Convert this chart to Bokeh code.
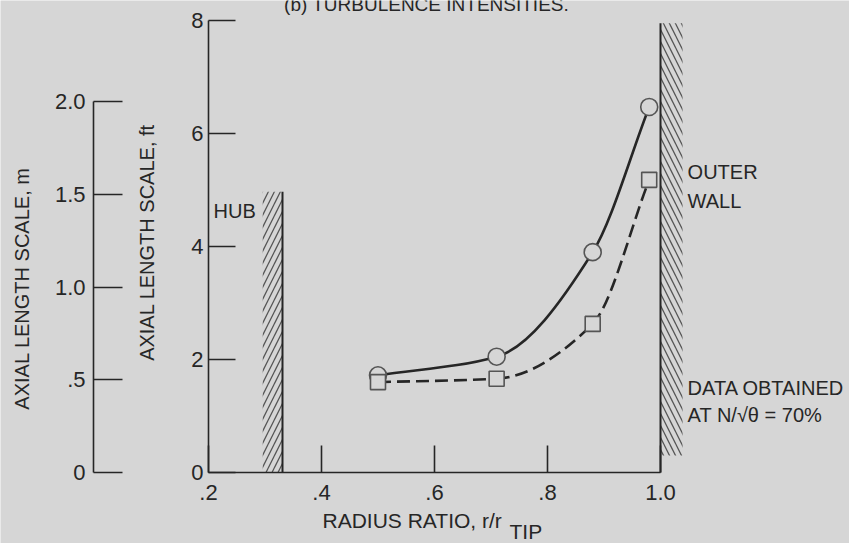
import math
from bokeh.plotting import figure
from bokeh.models import Range1d, FixedTicker, ColumnDataSource, LinearAxis
from bokeh.core.properties import value
from bokeh.embed import file_html
from bokeh.resources import INLINE

# ---------------- data ----------------
radius_ratio = [0.50, 0.71, 0.88, 0.98]
scale_circles = [1.72, 2.05, 3.90, 6.47]
scale_squares = [1.60, 1.66, 2.63, 5.18]

x_ticks = [0.2, 0.4, 0.6, 0.8, 1.0]
x_tick_labels = [".2", ".4", ".6", ".8", "1.0"]
ft_ticks = [0, 2, 4, 6, 8]
ft_tick_labels = ["0", "2", "4", "6", "8"]
m_ticks = [0, 0.5, 1.0, 1.5, 2.0]
m_tick_labels = ["0", ".5", "1.0", "1.5", "2.0"]
FT_PER_M = 3.28084

hub_ratio = 0.331
hub_top = 4.97
wall_ratio = 1.0

# ---------------- style / layout ----------------
BG = "#d6d6d6"
INK = "#262626"
MARK = "#555555"
FONT = "Liberation Sans"
W, H = 849, 543

# visible data window
X0, X1 = -0.1681, 1.3345
Y0, Y1 = -1.2566, 8.354


def faired(xs, ys):
    """Monotone cubic (Fritsch-Carlson) fairing through the data points,
    returned as cubic Bezier pieces."""
    n = len(xs)
    h = [xs[i + 1] - xs[i] for i in range(n - 1)]
    d = [(ys[i + 1] - ys[i]) / h[i] for i in range(n - 1)]
    m = [0.0] * n
    m[0], m[-1] = d[0], d[-1]
    for k in range(1, n - 1):
        if d[k - 1] * d[k] <= 0:
            m[k] = 0.0
        else:
            m[k] = 3 * (h[k - 1] + h[k]) / ((2 * h[k] + h[k - 1]) / d[k - 1]
                                            + (h[k] + 2 * h[k - 1]) / d[k])
    out = dict(x0=[], y0=[], x1=[], y1=[], cx0=[], cy0=[], cx1=[], cy1=[])
    for i in range(n - 1):
        out["x0"].append(xs[i]); out["y0"].append(ys[i])
        out["x1"].append(xs[i + 1]); out["y1"].append(ys[i + 1])
        out["cx0"].append(xs[i] + h[i] / 3)
        out["cy0"].append(ys[i] + m[i] * h[i] / 3)
        out["cx1"].append(xs[i + 1] - h[i] / 3)
        out["cy1"].append(ys[i + 1] - m[i + 1] * h[i] / 3)
    return ColumnDataSource(out)


def style_axis(ax, ticks, labels, tick_in, standoff):
    ax.ticker = FixedTicker(ticks=ticks)
    ax.major_label_overrides = {t: l for t, l in zip(ticks, labels)}
    ax.minor_tick_line_color = None
    ax.major_tick_out = 0
    ax.major_tick_in = tick_in
    ax.major_label_standoff = standoff
    ax.axis_line_color = INK
    ax.axis_line_width = 1.6
    ax.major_tick_line_color = INK
    ax.major_tick_line_width = 1.6
    ax.major_label_text_font = FONT
    ax.major_label_text_font_size = "22px"
    ax.major_label_text_color = INK


p = figure(width=W, height=H, x_range=Range1d(X0, X1), y_range=Range1d(Y0, Y1),
           x_axis_type=None, y_axis_type=None,
           output_backend="svg", toolbar_location=None,
           min_border=0, min_border_left=0, min_border_right=0,
           min_border_top=0, min_border_bottom=0)
p.extra_y_ranges = {"m": Range1d(Y0 / FT_PER_M, Y1 / FT_PER_M)}
p.background_fill_color = BG
p.border_fill_color = BG
p.outline_line_color = None

ax_m = LinearAxis(y_range_name="m", fixed_location=-0.0035)
style_axis(ax_m, m_ticks, m_tick_labels, 29, 8)
ax_m.bounds = (0, 2.0)
p.add_layout(ax_m, "left")

ax_ft = LinearAxis(fixed_location=0.2)
style_axis(ax_ft, ft_ticks, ft_tick_labels, 27, 5)
ax_ft.bounds = (0, 8)
p.add_layout(ax_ft, "left")

ax_x = LinearAxis(fixed_location=0)
style_axis(ax_x, x_ticks, x_tick_labels, 27, 12)
ax_x.bounds = (0.2, 1.0)
p.add_layout(ax_x, "below")

# axis titles
title_kw = dict(text_font=value(FONT), text_color=INK, text_baseline="middle")
p.text(x=[-0.1292], y=[3.257], text=["AXIAL LENGTH SCALE, m"], angle=math.pi / 2,
       text_align="center", text_font_size="20px", **title_kw)
p.text(x=[0.092], y=[4.071], text=["AXIAL LENGTH SCALE, ft"], angle=math.pi / 2,
       text_align="center", text_font_size="20px", **title_kw)
p.text(x=[0.4018], y=[-0.85], text=["RADIUS RATIO, r/r"],
       text_align="left", text_font_size="21px", **title_kw)
p.text(x=[0.7327], y=[-1.053], text=["TIP"],
       text_align="left", text_font_size="21px", **title_kw)

# hub and outer wall
p.quad(left=[0.296], right=[hub_ratio], bottom=[0], top=[hub_top],
       fill_color=None, line_color=None,
       hatch_pattern="/", hatch_color=MARK, hatch_weight=1.3, hatch_scale=12)
p.segment(x0=[hub_ratio], y0=[0], x1=[hub_ratio], y1=[hub_top],
          line_color=INK, line_width=2)
p.quad(left=[wall_ratio], right=[1.039], bottom=[0.3], top=[7.95],
       fill_color=None, line_color=None,
       hatch_pattern="\\", hatch_color=MARK, hatch_weight=1.3, hatch_scale=12)
p.segment(x0=[wall_ratio], y0=[0], x1=[wall_ratio], y1=[7.95],
          line_color=INK, line_width=2)

# faired curves
p.bezier(x0="x0", y0="y0", x1="x1", y1="y1", cx0="cx0", cy0="cy0",
         cx1="cx1", cy1="cy1", source=faired(radius_ratio, scale_circles),
         line_color=INK, line_width=2.6)
p.bezier(x0="x0", y0="y0", x1="x1", y1="y1", cx0="cx0", cy0="cy0",
         cx1="cx1", cy1="cy1", source=faired(radius_ratio, scale_squares),
         line_color=INK, line_width=2.6, line_dash="13 6")

src_c = ColumnDataSource(dict(x=radius_ratio, y=scale_circles))
src_s = ColumnDataSource(dict(x=radius_ratio, y=scale_squares))
p.scatter("x", "y", source=src_c, marker="circle", size=17,
          fill_color=BG, line_color=MARK, line_width=1.6)
p.scatter("x", "y", source=src_s, marker="square", size=15,
          fill_color=BG, line_color=MARK, line_width=1.6)

# annotations
p.text(x=[0.209], y=[4.62], text=["HUB"], text_font_size="20px", **title_kw)
p.text(x=[1.048, 1.048], y=[5.31, 4.80], text=["OUTER", "WALL"],
       text_font_size="20px", **title_kw)
p.text(x=[1.048, 1.048], y=[1.50, 1.01],
       text=["DATA OBTAINED", "AT N/\u221a\u03b8 = 70%"],
       text_font_size="20px", **title_kw)
p.text(x=[0.586], y=[8.292], text=["(b) TURBULENCE INTENSITIES."],
       text_font=value(FONT), text_color=INK, text_baseline="alphabetic",
       text_align="center", text_font_size="19px")

open("out.html", "w").write(file_html(p, INLINE))
